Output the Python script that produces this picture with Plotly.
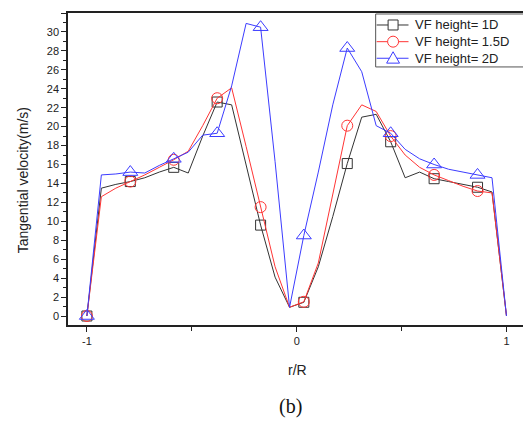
import plotly.graph_objects as go

# r/R grid positions
r = [-1.0, -0.931, -0.862, -0.793, -0.724, -0.655, -0.586, -0.517, -0.448, -0.379,
     -0.310, -0.241, -0.172, -0.103, -0.034, 0.034, 0.103, 0.172, 0.241, 0.310,
     0.379, 0.448, 0.517, 0.586, 0.655, 0.724, 0.793, 0.862, 0.931, 1.0]

vf_1d = [0, 13.5, 13.9, 14.2, 14.6, 15.2, 15.7, 15.1, 19.0, 22.6,
         22.3, 16.0, 9.6, 4.1, 0.92, 1.45, 5.2, 10.5, 16.1, 21.0,
         21.3, 18.4, 14.6, 15.2, 14.5, 14.2, 13.9, 13.6, 13.1, 0]

vf_15d = [0, 12.6, 13.5, 14.2, 14.9, 15.7, 16.5, 17.4, 20.1, 23.0,
          24.1, 17.9, 11.5, 5.2, 0.92, 1.5, 5.6, 12.8, 20.1, 22.3,
          21.6, 19.0, 17.0, 15.7, 14.9, 14.3, 13.7, 13.2, 13.0, 0]

vf_2d = [0, 14.9, 15.0, 15.2, 15.1, 15.9, 16.6, 17.3, 19.1, 19.3,
         24.3, 30.9, 30.5, 16.3, 0.92, 8.5, 15.2, 22.3, 28.3, 25.8,
         20.1, 19.3, 17.6, 16.6, 16.0, 15.5, 15.2, 14.9, 14.6, 0]

marker_idx = [0, 3, 6, 9, 12, 15, 18, 21, 24, 27]

names = ["VF height= 1D", "VF height= 1.5D", "VF height= 2D"]
colors = ["#333333", "#ff3535", "#3c3cff"]
symbols = ["square-open", "circle-open", "triangle-up-open"]
sizes = [10, 11, 13]
series = [vf_1d, vf_15d, vf_2d]

fig = go.Figure()
for name, col, sym, sz, ys in zip(names, colors, symbols, sizes, series):
    fig.add_trace(go.Scatter(x=r, y=ys, mode="lines", line=dict(color=col, width=1),
                             name=name, legendgroup=name, showlegend=False, hoverinfo="skip"))
    fig.add_trace(go.Scatter(x=[r[i] for i in marker_idx], y=[ys[i] for i in marker_idx],
                             mode="markers", name=name, legendgroup=name,
                             marker=dict(symbol=sym, size=sz, color=col, line=dict(width=1, color=col)),
                             showlegend=False))

# --- plot-area geometry (pixels inside the figure) used to place the legend box ---
L, T, W, H = 60, 5, 460, 312.3


def px(fx):
    return (fx - L) / W


def py(fy):
    return (T + H - fy) / H


shapes = []
annotations = []
# legend frame
shapes.append(dict(type="rect", xref="paper", yref="paper", x0=px(369), x1=px(518.5),
                   y0=py(59), y1=py(6), line=dict(color="#555", width=1), fillcolor="white"))
row_y = [17, 33.7, 50.3]
for name, col, sym, sz, ry in zip(names, colors, symbols, sizes, row_y):
    shapes.append(dict(type="line", xref="paper", yref="paper", x0=px(370), x1=px(402),
                       y0=py(ry), y1=py(ry), line=dict(color=col, width=1)))
    cx = 386.5
    h = sz / 2
    if sym.startswith("square"):
        shapes.append(dict(type="rect", xref="paper", yref="paper", x0=px(cx - h), x1=px(cx + h),
                           y0=py(ry + h), y1=py(ry - h), line=dict(color=col, width=1), fillcolor="white"))
    elif sym.startswith("circle"):
        shapes.append(dict(type="circle", xref="paper", yref="paper", x0=px(cx - h), x1=px(cx + h),
                           y0=py(ry + h), y1=py(ry - h), line=dict(color=col, width=1), fillcolor="white"))
    else:
        path = "M {:.4f},{:.4f} L {:.4f},{:.4f} L {:.4f},{:.4f} Z".format(
            px(cx), py(ry - h), px(cx - h), py(ry + h * 0.75), px(cx + h), py(ry + h * 0.75))
        shapes.append(dict(type="path", xref="paper", yref="paper", path=path,
                           line=dict(color=col, width=1), fillcolor="white"))
    annotations.append(dict(text=name, x=px(406.3), y=py(ry), xref="paper", yref="paper",
                            xanchor="left", yanchor="middle", showarrow=False,
                            font=dict(family="Liberation Sans, Arial", size=13, color="#222")))

annotations += [
    dict(text="r/R", x=0.5, y=-0.177, xref="paper", yref="paper", showarrow=False,
         font=dict(family="Liberation Sans, Arial", size=14, color="#222")),
    dict(text="Tangential velocity(m/s)", x=-0.120, y=0.464, xref="paper", yref="paper",
         showarrow=False, textangle=-90,
         font=dict(family="Liberation Sans, Arial", size=14, color="#222")),
    dict(text="(b)", x=0.486, y=-0.304, xref="paper", yref="paper",
         showarrow=False, font=dict(family="Liberation Serif, Times New Roman", size=20, color="#111")),
]

axis_font = dict(family="Liberation Sans, Arial", size=11, color="#222")
fig.update_layout(
    width=523, height=415,
    margin=dict(l=60, r=3, t=5, b=98),
    paper_bgcolor="white", plot_bgcolor="white",
    font=dict(family="Liberation Sans, Arial", color="#222"),
    showlegend=False,
    xaxis=dict(range=[-1.09, 1.093], tickvals=[-1, 0, 1], ticktext=["-1", "0", "1"],
               ticks="outside", ticklen=5, tickwidth=1.2, tickcolor="#222",
               minor=dict(tickvals=[-0.5, 0.5], ticks="outside", ticklen=4, tickcolor="#222", tickwidth=1.2),
               showline=True, linewidth=1.5, linecolor="#222", mirror=True,
               showgrid=False, zeroline=False, tickfont=axis_font),
    yaxis=dict(range=[-0.95, 32], tickvals=list(range(0, 33, 2)),
               ticks="outside", ticklen=5, tickwidth=1.2, tickcolor="#222",
               minor=dict(dtick=1, ticks="outside", ticklen=3, tickcolor="#222", tickwidth=1),
               showline=True, linewidth=1.5, linecolor="#222", mirror=True,
               showgrid=False, zeroline=False, tickfont=axis_font),
    shapes=shapes,
    annotations=annotations,
)

fig.write_html("out.html")
